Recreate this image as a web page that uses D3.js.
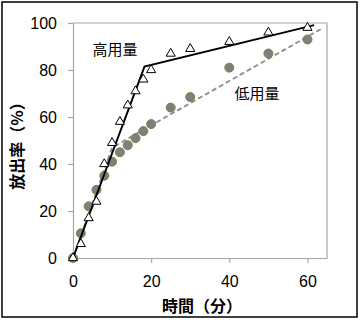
<!DOCTYPE html>
<html>
<head>
<meta charset="utf-8">
<script src="https://cdn.jsdelivr.net/npm/d3@7"></script>
<style>
  html, body { margin: 0; padding: 0; background: #fff; }
  svg { display: block; }
</style>
</head>
<body>
<svg id="chart" width="360" height="322"></svg>
<script>
// Release profile: time (min) vs cumulative release (%)
const timesHigh = [0, 2, 4, 6, 8, 10, 12, 14, 16, 18, 20, 25, 30, 40, 50, 60];
const releaseHigh = [0, 6, 17, 24, 40, 49, 58, 65, 71, 76, 80, 87, 89, 92, 96, 98];

const timesLow = [0, 2, 4, 6, 8, 10, 12, 14, 16, 18, 20, 25, 30, 40, 50, 60];
const releaseLow = [0, 10.5, 22, 29, 35, 41, 45, 48, 51, 54, 57, 64, 68.5, 81, 87, 93];

// Piecewise trend lines for each dose
const trendHighX = [0, 18.3, 61.7];
const trendHighY = [0, 81.5, 99.1];
const trendLowX = [0, 10, 63.4];
const trendLowY = [0, 47, 97.4];

const xTicks = [0, 20, 40, 60];
const yTicks = [0, 20, 40, 60, 80, 100];

const labelHigh = "高用量";
const labelLow = "低用量";
const xTitle = "時間（分）";
const yTitle = "放出率（%）";

const svg = d3.select("#chart");
const W = 360, H = 322;
const margin = { left: 73, right: 33, top: 23, bottom: 64 };
const x0 = margin.left, x1 = W - margin.right;
const y0 = H - margin.bottom, y1 = margin.top;

const x = d3.scaleLinear().domain([0, 65]).range([x0, x1]);
const y = d3.scaleLinear().domain([0, 100]).range([y0, y1]);

const cjk = "'Noto Sans CJK JP', 'Noto Sans', sans-serif";
const latin = "'Liberation Sans', 'Noto Sans', sans-serif";

// outer frame
svg.append("rect")
  .attr("x", 2).attr("y", 2)
  .attr("width", 355).attr("height", 315)
  .attr("fill", "none").attr("stroke", "#000").attr("stroke-width", 1.5);

// plot area frame (top and right)
svg.append("path")
  .attr("d", `M${x0},${y1}H${x1}V${y0}`)
  .attr("fill", "none").attr("stroke", "#a6a6a6").attr("stroke-width", 1.2);

// axes
const xAxis = d3.axisBottom(x).tickValues(xTicks).tickSize(5).tickSizeOuter(0).tickPadding(13);
const yAxis = d3.axisLeft(y).tickValues(yTicks).tickSize(5).tickSizeOuter(0).tickPadding(11);

const gx = svg.append("g").attr("transform", `translate(0,${y0})`).call(xAxis);
const gy = svg.append("g").attr("transform", `translate(${x0},0)`).call(yAxis);

[gx, gy].forEach(g => {
  g.select(".domain").attr("stroke", "#a6a6a6").attr("stroke-width", 1.2);
  g.selectAll(".tick line").attr("stroke", "#a6a6a6").attr("stroke-width", 1.2);
  g.selectAll(".tick text")
    .attr("fill", "#000")
    .style("font-family", latin)
    .style("font-size", "16px");
});

// trend lines
const line = d3.line().x(d => x(d[0])).y(d => y(d[1]));

svg.append("path")
  .datum(d3.zip(trendLowX, trendLowY))
  .attr("d", line)
  .attr("fill", "none")
  .attr("stroke", "#8c8c8c")
  .attr("stroke-width", 1.8)
  .attr("stroke-dasharray", "5,3");

// low dose points
svg.append("g").selectAll("circle")
  .data(d3.zip(timesLow, releaseLow))
  .join("circle")
  .attr("cx", d => x(d[0]))
  .attr("cy", d => y(d[1]))
  .attr("r", 4.5)
  .attr("fill", "#7f7f7f")
  .attr("stroke", "#76883a")
  .attr("stroke-width", 1);

svg.append("path")
  .datum(d3.zip(trendHighX, trendHighY))
  .attr("d", line)
  .attr("fill", "none")
  .attr("stroke", "#000")
  .attr("stroke-width", 2);

// high dose points
const tri = d3.symbol().type(d3.symbolTriangle).size(36);
svg.append("g").selectAll("path")
  .data(d3.zip(timesHigh, releaseHigh))
  .join("path")
  .attr("d", tri)
  .attr("transform", d => `translate(${x(d[0])},${y(d[1])})`)
  .attr("fill", "#fff")
  .attr("stroke", "#000")
  .attr("stroke-width", 1);

// series labels
svg.append("text")
  .attr("x", 115).attr("y", 48)
  .attr("text-anchor", "middle").attr("dominant-baseline", "central")
  .style("font-family", cjk).style("font-size", "15px")
  .text(labelHigh);

svg.append("text")
  .attr("x", 257).attr("y", 92)
  .attr("text-anchor", "middle").attr("dominant-baseline", "central")
  .style("font-family", cjk).style("font-size", "15px")
  .text(labelLow);

// axis titles
svg.append("text")
  .attr("x", 202).attr("y", 305)
  .attr("text-anchor", "middle").attr("dominant-baseline", "central")
  .style("font-family", cjk).style("font-size", "16px").style("font-weight", "bold")
  .text(xTitle);

svg.append("text")
  .attr("transform", "translate(16,142) rotate(-90)")
  .attr("text-anchor", "middle").attr("dominant-baseline", "central")
  .style("font-family", cjk).style("font-size", "16px").style("font-weight", "bold")
  .text(yTitle);
</script>
</body>
</html>
